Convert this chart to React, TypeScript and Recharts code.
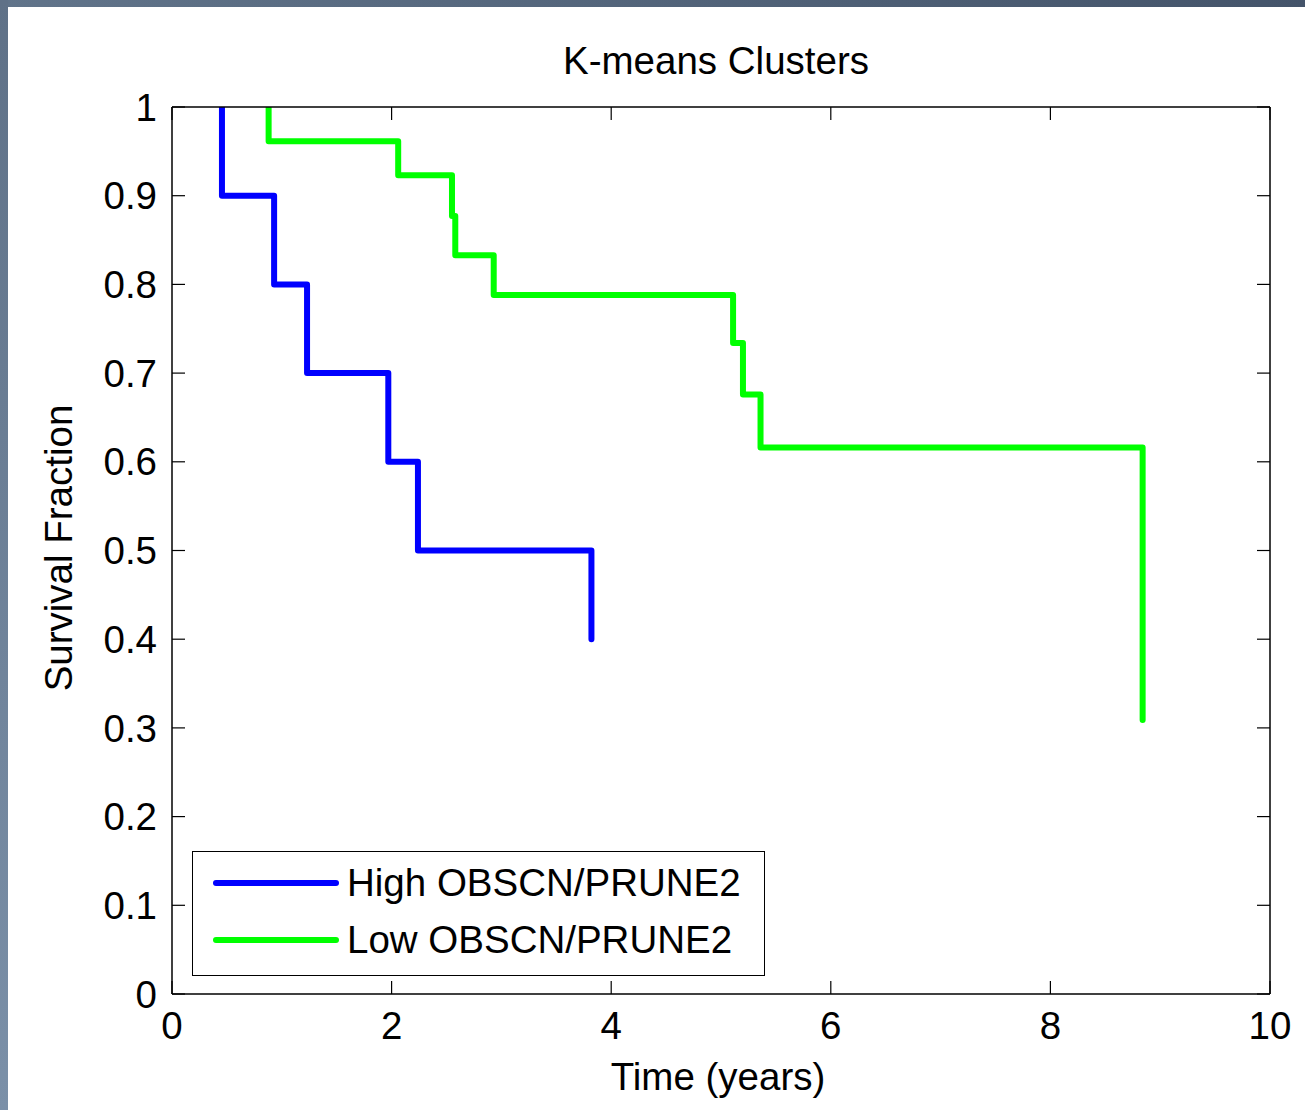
import React from 'react';
import { LineChart, Line, XAxis, YAxis, Legend, Label } from 'recharts';

const highTimes = [0.455, 0.455, 0.93, 1.23, 1.97, 2.24, 3.82];
const highSurvival = [1, 0.9, 0.8, 0.7, 0.6, 0.5, 0.4];
const lowTimes = [0.88, 0.88, 2.06, 2.55, 2.58, 2.93, 5.11, 5.2, 5.36, 8.84];
const lowSurvival = [1, 0.9615, 0.923, 0.877, 0.833, 0.788, 0.734, 0.676, 0.616, 0.309];
const xTicks = [0, 2, 4, 6, 8, 10];
const yTicks = [0, 0.1, 0.2, 0.3, 0.4, 0.5, 0.6, 0.7, 0.8, 0.9, 1];
const seriesNames = ['High OBSCN/PRUNE2', 'Low OBSCN/PRUNE2'];
const seriesColors = ['#0000ff', '#00ff00'];
const titleText = 'K-means Clusters';
const xLabelText = 'Time (years)';
const yLabelText = 'Survival Fraction';

const highData = highTimes.map((t, i) => ({ t, s: highSurvival[i] }));
const lowData = lowTimes.map((t, i) => ({ t, s: lowSurvival[i] }));

const FONT = '"Liberation Sans", Arial, sans-serif';
const FS = 38.5;

const PL = 172, PT = 107, PR = 1270, PB = 994;
const LW = 100, RW = 10, TH = 30, BH = 60;

const LegendBox = () => (
  <div
    style={{
      width: 573,
      height: 125,
      boxSizing: 'border-box',
      border: '1.5px solid #000',
      background: '#fff',
      fontFamily: FONT,
      fontSize: FS,
      color: '#000',
      position: 'relative',
    }}
  >
    {seriesNames.map((n, i) => (
      <div key={n} style={{ position: 'absolute', left: 20, top: 31 + i * 57 - 22, height: 44, display: 'flex', alignItems: 'center', whiteSpace: 'nowrap' }}>
        <svg width={126} height={10} style={{ display: 'block' }}>
          <line x1={3} y1={5} x2={123} y2={5} stroke={seriesColors[i]} strokeWidth={6} strokeLinecap="round" />
        </svg>
        <span style={{ marginLeft: 8, lineHeight: '44px' }}>{n}</span>
      </div>
    ))}
  </div>
);

const hiddenTick = () => <g />;

export default function App() {
  return (
    <div style={{ position: 'absolute', left: 0, top: 0, width: 1305, height: 1110, background: '#fff', overflow: 'hidden' }}>
      <div style={{ position: 'absolute', left: 0, top: 0, width: 1305, height: 7, background: 'linear-gradient(to right, #61748a, #44546a)' }} />
      <div style={{ position: 'absolute', left: 0, top: 0, width: 8, height: 1110, background: 'linear-gradient(to bottom, #5f7187, #7b90a8)' }} />
      <LineChart
        width={1305}
        height={1110}
        margin={{ top: PT - TH, right: 1305 - PR - RW, bottom: 1110 - PB - BH, left: PL - LW }}
        style={{ fontFamily: FONT }}
      >
        <XAxis
          xAxisId="b"
          type="number"
          dataKey="t"
          domain={[0, 10]}
          ticks={xTicks}
          height={BH}
          orientation="bottom"
          axisLine={{ stroke: '#000', strokeWidth: 1.5 }}
          tickLine={{ stroke: '#000', strokeWidth: 1.2 }}
          tickSize={-13}
          tickMargin={31}
          tick={{ fill: '#000', fontSize: FS, fontFamily: FONT }}
          allowDataOverflow
        >
          <Label
            content={() => (
              <text x={(PL + PR) / 2 - 3} y={1090} textAnchor="middle" fontSize={FS} fontFamily={FONT} fill="#000">
                {xLabelText}
              </text>
            )}
          />
        </XAxis>
        <XAxis
          xAxisId="t"
          type="number"
          dataKey="t"
          domain={[0, 10]}
          ticks={xTicks}
          height={TH}
          orientation="top"
          axisLine={{ stroke: '#000', strokeWidth: 1.5 }}
          tickLine={{ stroke: '#000', strokeWidth: 1.2 }}
          tickSize={-13}
          tick={hiddenTick}
          allowDataOverflow
        >
          <Label
            content={() => (
              <text x={(PL + PR) / 2 - 5} y={74} textAnchor="middle" fontSize={FS} fontFamily={FONT} fill="#000">
                {titleText}
              </text>
            )}
          />
        </XAxis>
        <YAxis
          yAxisId="l"
          type="number"
          domain={[0, 1]}
          ticks={yTicks}
          width={LW}
          orientation="left"
          axisLine={{ stroke: '#000', strokeWidth: 1.5 }}
          tickLine={{ stroke: '#000', strokeWidth: 1.2 }}
          tickSize={-13}
          tickMargin={28}
          tick={{ fill: '#000', fontSize: FS, fontFamily: FONT }}
          allowDataOverflow
        >
          <Label
            content={() => (
              <text
                x={72}
                y={548}
                transform="rotate(-90 72 548)"
                textAnchor="middle"
                fontSize={FS}
                fontFamily={FONT}
                fill="#000"
              >
                {yLabelText}
              </text>
            )}
          />
        </YAxis>
        <YAxis
          yAxisId="r"
          type="number"
          domain={[0, 1]}
          ticks={yTicks}
          width={RW}
          orientation="right"
          axisLine={{ stroke: '#000', strokeWidth: 1.5 }}
          tickLine={{ stroke: '#000', strokeWidth: 1.2 }}
          tickSize={-13}
          tick={hiddenTick}
          allowDataOverflow
        />
        <Line
          xAxisId="b"
          yAxisId="l"
          data={highData}
          dataKey="s"
          type="stepAfter"
          stroke={seriesColors[0]}
          strokeWidth={6}
          strokeLinejoin="round"
          strokeLinecap="round"
          dot={false}
          activeDot={false}
          isAnimationActive={false}
          name={seriesNames[0]}
        />
        <Line
          xAxisId="b"
          yAxisId="l"
          data={lowData}
          dataKey="s"
          type="stepAfter"
          stroke={seriesColors[1]}
          strokeWidth={6}
          strokeLinejoin="round"
          strokeLinecap="round"
          dot={false}
          activeDot={false}
          isAnimationActive={false}
          name={seriesNames[1]}
        />
        <Legend
          layout="vertical"
          align="center"
          verticalAlign="middle"
          content={() => <LegendBox />}
          wrapperStyle={{ position: 'absolute', left: 192, top: 851, width: 573, height: 125, bottom: 'auto' }}
        />
      </LineChart>
    </div>
  );
}
